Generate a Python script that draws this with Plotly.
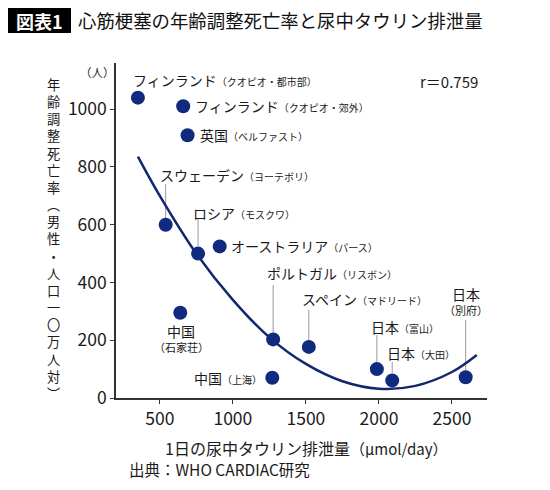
import plotly.graph_objects as go

# ---- data ----
cities = ["フィンランド（クオピオ・都市部）", "フィンランド（クオピオ・郊外）", "英国（ベルファスト）",
          "スウェーデン（ヨーテボリ）", "ロシア（モスクワ）", "オーストラリア（パース）",
          "中国（石家荘）", "ポルトガル（リスボン）", "中国（上海）", "スペイン（マドリード）",
          "日本（富山）", "日本（大田）", "日本（別府）"]
taurine = [350, 660, 690, 540, 762, 910, 640, 1276, 1270, 1520, 1986, 2091, 2594]
mortality = [1040, 1010, 910, 600, 500, 525, 295, 203, 70, 177, 100, 61, 72]

curve_x = [350, 500, 750, 1000, 1250, 1500, 1750, 2000, 2250, 2500, 2670]
curve_y = [836, 700, 500, 340, 210, 118, 58, 32, 42, 90, 149]

x_ticks = [500, 1000, 1500, 2000, 2500]
y_ticks = [0, 200, 400, 600, 800, 1000]

FONT = "Noto Sans CJK JP"
NAVY = "#0f2a7f"
LINE = "#12276e"
TXT = "#1a1a1a"

OFF = 8  # page body margin
W, H = 550 - OFF, 490 - OFF
L, R, T, B = 116 - OFF, 63, 63 - OFF, 92
PW, PH = W - L - R, H - T - B


def P(xpx, ypx):
    # screen pixel -> paper coordinate
    xpx -= OFF
    ypx -= OFF
    return (xpx - L) / PW, (H - B - ypx) / PH


fig = go.Figure()

fig.add_trace(go.Scatter(x=curve_x, y=curve_y, mode="lines", line=dict(color=LINE, width=2.5, shape="spline"),
                         hoverinfo="skip", showlegend=False))
fig.add_trace(go.Scatter(x=taurine, y=mortality, mode="markers", text=cities,
                         marker=dict(color=NAVY, size=14), showlegend=False))

annotations = []


def lab(xpx, ypx, main, sub, anchor="left", ms=14, ss=10):
    px, py = P(xpx, ypx)
    t = main
    if sub:
        t += f"<span style='font-size:{ss}px'>{sub}</span>"
    annotations.append(dict(x=px, y=py, xref="paper", yref="paper", text=t, showarrow=False,
                            xanchor=anchor, yanchor="middle", font=dict(family=FONT, size=ms, color=TXT)))


lab(131, 80, "フィンランド", "（クオピオ・都市部）")
lab(193, 106, "フィンランド", "（クオピオ・郊外）")
lab(198, 135, "英国", "（ベルファスト）")
lab(158, 175, "スウェーデン", "（ヨーテボリ）")
lab(191, 213, "ロシア", "（モスクワ）")
lab(229, 246, "オーストラリア", "（パース）")
lab(265, 273, "ポルトガル", "（リスボン）")
lab(300, 299, "スペイン", "（マドリード）")
lab(369, 327, "日本", "（富山）")
lab(385, 353, "日本", "（大田）")
lab(466, 294, "日本", "", anchor="center")
lab(466, 310, "", "（別府）", anchor="center", ss=11)
lab(181, 331, "中国", "", anchor="center")
lab(181, 347, "", "（石家荘）", anchor="center", ss=11)
lab(264, 378, "中国", "（上海）", anchor="right")

# leader lines (data x of each point, y extent)
leaders = [(3, 620, 740), (4, 526, 620), (7, 225, 391), (9, 201, 305), (10, 125, 218), (11, 87, 125), (12, 93, 270)]
shapes = []
for i, y0, y1 in leaders:
    shapes.append(dict(type="line", xref="x", yref="y", x0=taurine[i], x1=taurine[i], y0=y0, y1=y1,
                       line=dict(color="#9a9a9a", width=1), layer="below"))

# title box
x0, y0 = P(8, 33)
x1, y1 = P(71, 8)
shapes.append(dict(type="rect", xref="paper", yref="paper", x0=x0, y0=y0, x1=x1, y1=y1,
                   fillcolor="black", line=dict(width=0)))
px, py = P(39.5, 21)
annotations.append(dict(x=px, y=py, xref="paper", yref="paper", text="<b>図表1</b>", showarrow=False,
                        xanchor="center", yanchor="middle", borderpad=0,
                        font=dict(family=FONT, size=18, color="white")))
px, py = P(77, 20.5)
annotations.append(dict(x=px, y=py, xref="paper", yref="paper", text="心筋梗塞の年齢調整死亡率と尿中タウリン排泄量",
                        showarrow=False, xanchor="left", yanchor="middle", borderpad=0,
                        font=dict(family=FONT, size=18.4, color="#111111")))

# r value
px, py = P(418, 81)
annotations.append(dict(x=px, y=py, xref="paper", yref="paper", text="r＝0.759", showarrow=False,
                        xanchor="left", yanchor="middle", font=dict(family=FONT, size=15, color=TXT)))

# unit
px, py = P(97, 72)
annotations.append(dict(x=px, y=py, xref="paper", yref="paper", text="（人）", showarrow=False,
                        xanchor="center", yanchor="middle", font=dict(family=FONT, size=11.5, color=TXT)))

# vertical y title (one character per line)
ychars = list("年齢調整死亡率︵男性・人口一〇万人対︶")
px, py = P(53, 239)
annotations.append(dict(x=px, y=py, xref="paper", yref="paper", text="<br>".join(ychars), showarrow=False,
                        xanchor="center", yanchor="middle", font=dict(family=FONT, size=13.2, color=TXT)))

# x title
px, py = P(163, 448)
annotations.append(dict(x=px, y=py, xref="paper", yref="paper",
                        text="1日の尿中タウリン排泄量<span style='font-size:15px'>（μmol/day）</span>",
                        showarrow=False, xanchor="left", yanchor="middle",
                        font=dict(family=FONT, size=16, color=TXT)))
# source
px, py = P(127, 469)
annotations.append(dict(x=px, y=py, xref="paper", yref="paper", text="出典：WHO CARDIAC研究",
                        showarrow=False, xanchor="left", yanchor="middle",
                        font=dict(family=FONT, size=15.5, color=TXT)))

fig.update_layout(
    width=W, height=H, margin=dict(l=L, r=R, t=T, b=B, pad=0),
    paper_bgcolor="white", plot_bgcolor="white",
    font=dict(family=FONT, color=TXT),
    annotations=annotations, shapes=shapes,
    xaxis=dict(range=[200, 2740], tickvals=x_ticks, showgrid=False, zeroline=False, showline=True,
               linecolor="#333333", linewidth=1.5, ticks="outside", ticklen=4, tickcolor="#333333",
               tickfont=dict(family=FONT, size=17.5, color=TXT)),
    yaxis=dict(range=[0, 1160], tickvals=y_ticks, showgrid=False, zeroline=False, showline=True,
               linecolor="#333333", linewidth=1.5, ticks="outside", ticklen=4, tickcolor="#333333",
               tickfont=dict(family=FONT, size=17.5, color=TXT)),
)

fig.write_html("out.html")
